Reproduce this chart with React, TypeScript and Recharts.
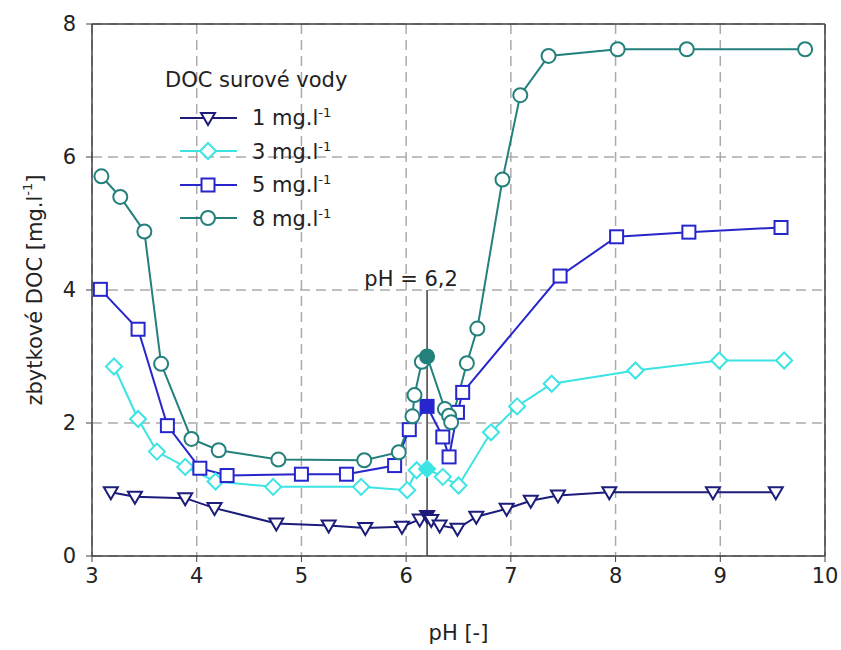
import { LineChart, Line, XAxis, YAxis, CartesianGrid, ReferenceLine, Legend } from 'recharts';

// pH values and residual DOC, one pair of arrays per raw-water DOC
const ph1 = [3.18, 3.41, 3.89, 4.17, 4.76, 5.26, 5.61, 5.96, 6.13, 6.2, 6.24, 6.32, 6.49, 6.67, 6.96, 7.19, 7.45, 7.94, 8.93, 9.53];
const doc1 = [0.96, 0.89, 0.87, 0.72, 0.49, 0.46, 0.42, 0.44, 0.55, 0.6, 0.54, 0.46, 0.41, 0.59, 0.71, 0.83, 0.91, 0.96, 0.96, 0.96];

const ph3 = [3.21, 3.44, 3.62, 3.89, 4.18, 4.73, 5.57, 6.01, 6.1, 6.2, 6.35, 6.5, 6.81, 7.06, 7.39, 8.19, 8.99, 9.61];
const doc3 = [2.85, 2.06, 1.57, 1.34, 1.12, 1.04, 1.04, 0.99, 1.29, 1.31, 1.19, 1.06, 1.86, 2.25, 2.59, 2.79, 2.94, 2.94];

const ph5 = [3.08, 3.44, 3.72, 4.03, 4.29, 5.0, 5.43, 5.89, 6.03, 6.2, 6.35, 6.41, 6.49, 6.54, 7.47, 8.01, 8.7, 9.58];
const doc5 = [4.01, 3.41, 1.96, 1.32, 1.21, 1.23, 1.23, 1.36, 1.9, 2.25, 1.79, 1.49, 2.16, 2.46, 4.21, 4.8, 4.87, 4.94];

const ph8 = [3.09, 3.27, 3.5, 3.66, 3.95, 4.21, 4.78, 5.6, 5.93, 6.06, 6.08, 6.15, 6.2, 6.37, 6.41, 6.43, 6.58, 6.68, 6.92, 7.09, 7.36, 8.02, 8.68, 9.81];
const doc8 = [5.71, 5.4, 4.88, 2.89, 1.76, 1.59, 1.45, 1.44, 1.56, 2.1, 2.42, 2.92, 3.0, 2.21, 2.11, 2.01, 2.9, 3.42, 5.66, 6.93, 7.52, 7.62, 7.62, 7.62];

const xTicks = [3, 4, 5, 6, 7, 8, 9, 10];
const yTicks = [0, 2, 4, 6, 8];
const markPh = 6.2;

const FONT = '"DejaVu Sans", "Liberation Sans", sans-serif';
const AXIS = '#404040';

const toRows = (ph: number[], doc: number[]) => ph.map((p, i) => ({ ph: p, doc: doc[i] }));

const series = [
    { key: 's1', label: '1 mg.l', data: toRows(ph1, doc1), color: '#1c1c7a', shape: 'triangle' },
    { key: 's3', label: '3 mg.l', data: toRows(ph3, doc3), color: '#3ce4e4', shape: 'diamond' },
    { key: 's5', label: '5 mg.l', data: toRows(ph5, doc5), color: '#2626cc', shape: 'square' },
    { key: 's8', label: '8 mg.l', data: toRows(ph8, doc8), color: '#23807c', shape: 'circle' },
];

function Marker({ cx, cy, shape, color, filled }: any) {
    const fill = filled ? color : '#fff';
    const common = { stroke: color, strokeWidth: 2, fill };
    if (shape === 'circle') return <circle cx={cx} cy={cy} r={7} {...common} />;
    if (shape === 'square') return <rect x={cx - 6.5} y={cy - 6.5} width={13} height={13} {...common} />;
    if (shape === 'diamond')
        return <polygon points={`${cx},${cy - 8} ${cx + 8},${cy} ${cx},${cy + 8} ${cx - 8},${cy}`} {...common} />;
    return <polygon points={`${cx - 7},${cy - 5} ${cx + 7},${cy - 5} ${cx},${cy + 7}`} {...common} />;
}

function LegendBox() {
    return (
        <div style={{ fontFamily: FONT, color: '#222' }}>
            <div style={{ fontSize: 21, height: 38, lineHeight: '34px', whiteSpace: 'nowrap', paddingLeft: 5 }}>DOC surové vody</div>
            {series.map((s) => (
                <div key={s.key} style={{ display: 'flex', alignItems: 'center', height: 33.5, paddingLeft: 20 }}>
                    <svg width={57} height={24} style={{ overflow: 'visible' }}>
                        <line x1={0} x2={57} y1={12} y2={12} stroke={s.color} strokeWidth={2} />
                        <Marker cx={28} cy={12} shape={s.shape} color={s.color} />
                    </svg>
                    <span style={{ marginLeft: 15, fontSize: 21, whiteSpace: 'nowrap' }}>
                        {s.label}
                        <sup style={{ fontSize: 13 }}>-1</sup>
                    </span>
                </div>
            ))}
        </div>
    );
}

export default function App() {
    return (
        <div style={{ position: 'absolute', left: 0, top: 0, width: 841, height: 650, background: '#fff' }}>
            <LineChart width={841} height={650} margin={{ top: 24, right: 16, bottom: 34, left: 32 }}>
                <CartesianGrid strokeDasharray="10 6" stroke="#aaa" strokeWidth={1.5} />
                <XAxis
                    type="number"
                    dataKey="ph"
                    domain={[3, 10]}
                    ticks={xTicks}
                    height={60}
                    tickSize={6}
                    tickMargin={6}
                    stroke={AXIS}
                    axisLine={{ stroke: AXIS, strokeWidth: 1.5 }}
                    tick={{ fill: '#222', fontSize: 21, fontFamily: FONT }}
                    label={(p: any) => (
                        <text x={p.viewBox.x + p.viewBox.width / 2} y={p.viewBox.y + 84} textAnchor="middle" fill="#222" fontSize={21} fontFamily={FONT}>
                            pH [-]
                        </text>
                    )}
                />
                <YAxis
                    type="number"
                    domain={[0, 8]}
                    ticks={yTicks}
                    width={60}
                    tickSize={6}
                    tickMargin={10}
                    stroke={AXIS}
                    axisLine={{ stroke: AXIS, strokeWidth: 1.5 }}
                    tick={{ fill: '#222', fontSize: 21, fontFamily: FONT }}
                    label={(p: any) => {
                        const cx = 36;
                        const cy = p.viewBox.y + p.viewBox.height / 2;
                        return (
                            <text x={cx} y={cy} transform={`rotate(-90, ${cx}, ${cy})`} textAnchor="middle" dominantBaseline="middle" fill="#222" fontSize={21} fontFamily={FONT}>
                                zbytkové DOC [mg.l<tspan dy={-8} fontSize={13}>-1</tspan><tspan dy={8}>]</tspan>
                            </text>
                        );
                    }}
                />
                <ReferenceLine y={8} stroke={AXIS} strokeWidth={1.5} />
                <ReferenceLine x={10} stroke={AXIS} strokeWidth={1.5} />
                <ReferenceLine
                    segment={[{ x: markPh, y: 0 }, { x: markPh, y: 4 }]}
                    stroke={AXIS}
                    strokeWidth={1.5}
                    label={(p: any) => (
                        <text x={p.viewBox.x - 16} y={p.viewBox.y - 4} textAnchor="middle" fill="#222" fontSize={21} fontFamily={FONT}>
                            pH = 6,2
                        </text>
                    )}
                />
                {series.map((s) => (
                    <Line
                        key={s.key}
                        data={s.data}
                        dataKey="doc"
                        stroke={s.color}
                        strokeWidth={2}
                        isAnimationActive={false}
                        activeDot={false}
                        dot={(p: any) => (
                            <Marker key={`${s.key}-${p.index}`} cx={p.cx} cy={p.cy} shape={s.shape} color={s.color} filled={p.payload.ph === markPh} />
                        )}
                    />
                ))}
                <Legend
                    layout="horizontal"
                    verticalAlign="middle"
                    align="center"
                    content={() => <LegendBox />}
                    wrapperStyle={{ position: 'absolute', left: 160, top: 63, width: 280, height: 180 }}
                />
            </LineChart>
        </div>
    );
}
